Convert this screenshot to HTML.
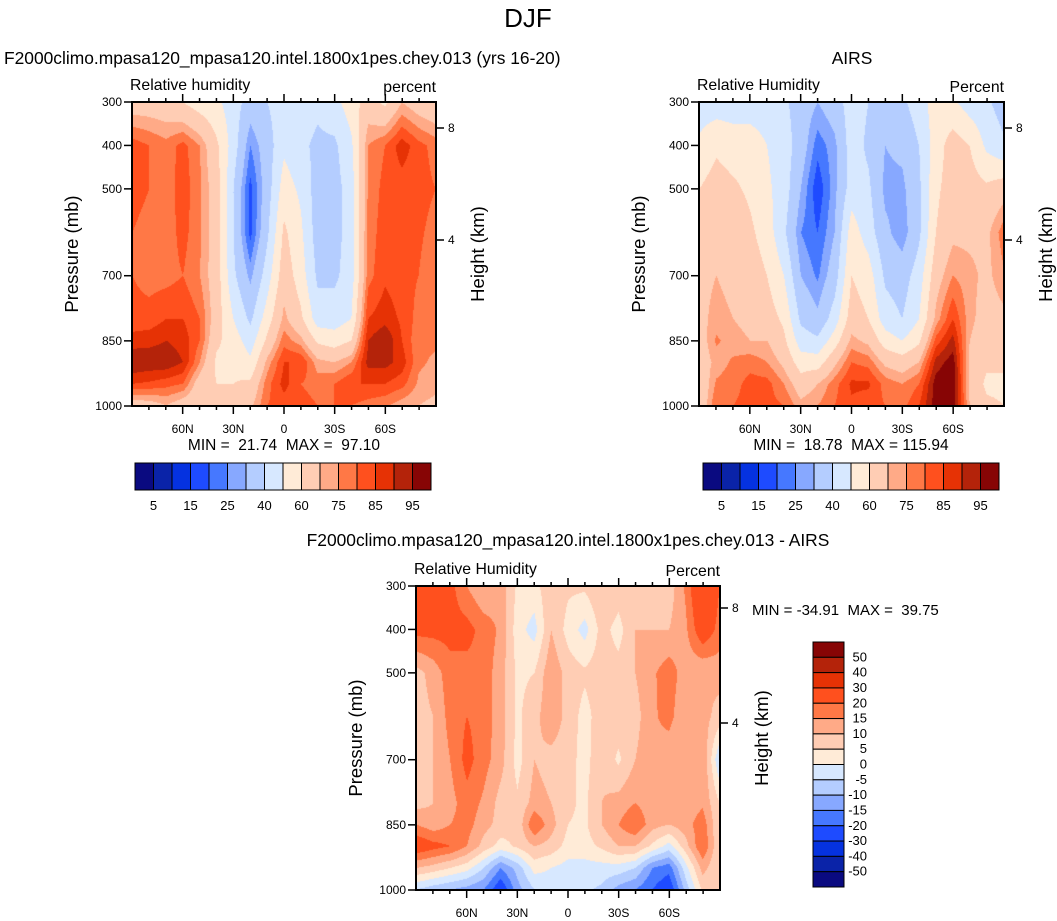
<!DOCTYPE html>
<html><head><meta charset="utf-8">
<style>
body{margin:0;background:#fff;}
#wrap{position:relative;width:1057px;height:921px;overflow:hidden;font-family:"Liberation Sans",sans-serif;}
canvas{position:absolute;}
svg{position:absolute;left:0;top:0;}
svg text{white-space:pre;}
</style></head><body>
<div id="wrap">
<canvas id="c1" width="304" height="304" style="left:132px;top:102px"></canvas>
<canvas id="c2" width="305" height="304" style="left:699px;top:102px"></canvas>
<canvas id="c3" width="304" height="304" style="left:416px;top:586px"></canvas>
<svg id="ov" width="1057" height="921"></svg>
</div>
<script>
const lats=[90,80,70,60,50,40,30,20,10,0,-10,-20,-30,-40,-50,-60,-70,-80,-90];
const pres=[300,400,500,600,700,800,850,900,950,1000];
const rhLevels=[5,10,15,20,25,30,40,50,60,70,75,80,85,90,95];
const diffLevels=[-50,-40,-30,-20,-15,-10,-5,0,5,10,15,20,30,40,50];
const rhLabels=["5","15","25","40","60","75","85","95"];
const diffLabels=["50","40","30","20","15","10","5","0","-5","-10","-15","-20","-30","-40","-50"];
const colors=["#0a0a80","#0a23a8","#0532e0","#1e4bff","#4678ff","#87a8ff","#b4cdff","#d7e8ff","#ffebd7","#ffcdb4","#ffaa87","#ff7846","#ff501e","#e63205","#b4230a","#870505"];
const modelRH=[
[65,83,82,80,80,82,87,95,85,65],
[65,80,80,78,78,82,88,94,84,66],
[64,77,77,77,78,85,90,94,82,70],
[60,82,83,82,80,85,88,90,80,65],
[55,75,76,76,75,80,80,75,65,62],
[52,62,65,65,65,65,62,58,60,62],
[45,45,40,40,42,50,55,58,60,62],
[35,25,18,18,28,38,45,52,62,68],
[40,35,35,38,45,55,62,72,78,80],
[45,48,55,62,66,72,78,85,87,82],
[45,42,48,52,55,62,72,85,80,82],
[42,38,35,35,38,45,58,72,78,80],
[47,38,36,36,38,45,55,70,80,80],
[55,48,45,45,45,50,60,75,85,80],
[65,75,76,77,78,85,90,92,85,78],
[58,80,82,83,84,88,95,92,85,76],
[70,88,82,82,82,84,85,88,82,72],
[65,82,82,81,80,78,76,76,74,70],
[62,78,80,78,76,76,76,74,72,68]];
const airsRH=[
[45,52,60,65,68,68,65,65,62,62],
[45,58,65,70,70,72,76,72,76,80],
[45,55,62,68,68,70,72,76,78,80],
[45,55,58,62,66,68,70,78,82,82],
[45,50,52,55,60,65,70,75,82,82],
[42,45,45,42,50,58,62,68,75,80],
[35,35,30,25,30,38,45,55,65,72],
[30,22,16,20,24,32,42,55,70,75],
[35,28,28,30,35,45,55,68,78,80],
[45,45,45,55,60,65,72,80,86,84],
[40,38,42,45,55,60,68,78,86,82],
[35,30,28,32,38,45,55,68,78,80],
[38,32,28,26,35,40,50,65,75,78],
[45,40,38,38,45,50,58,70,80,85],
[55,55,58,60,66,72,82,92,98,98],
[52,65,65,68,75,85,92,98,100,98],
[45,60,65,68,72,72,70,68,68,70],
[42,48,62,68,68,66,64,62,58,62],
[35,42,66,78,74,68,66,62,58,60]];
const diffRH=[
[22,22,8,8,8,8,15,25,10,-5],
[22,22,12,10,10,10,12,22,8,-8],
[22,22,18,17,15,13,15,20,5,-10],
[15,22,18,20,22,18,17,15,2,-12],
[10,18,18,18,17,14,12,8,-5,-15],
[13,14,12,12,12,8,8,3,-15,-25],
[4,2,4,4,3,6,6,6,-8,-12],
[3,-2,5,8,10,12,20,10,2,-5],
[9,10,14,14,8,10,12,8,0,-3],
[6,3,8,8,7,6,5,3,-2,-3],
[6,-2,6,3,3,4,4,3,-2,-4],
[10,7,8,8,9,10,10,6,-2,-6],
[8,3,7,8,4,12,15,10,-2,-12],
[10,10,10,8,10,15,20,10,-5,-15],
[6,10,14,14,14,12,12,4,-15,-20],
[7,10,18,17,11,10,10,-2,-18,-25],
[16,14,12,10,10,12,13,8,-2,-8],
[30,25,10,12,15,14,18,20,12,6],
[20,18,12,8,-5,5,5,5,5,5]];

function hex(c){return [parseInt(c.substr(1,2),16),parseInt(c.substr(3,2),16),parseInt(c.substr(5,2),16)];}
const rgb=colors.map(hex);
function drawField(id,grid,levels){
  const cv=document.getElementById(id),ctx=cv.getContext('2d');
  const W=cv.width,H=cv.height,img=ctx.createImageData(W,H);
  for(let py=0;py<H;py++){
    const p=300+py/(H-1)*700;
    let j=0;while(j<pres.length-2&&pres[j+1]<p)j++;
    const tp=(p-pres[j])/(pres[j+1]-pres[j]);
    for(let px=0;px<W;px++){
      const lat=90-px/(W-1)*180;
      let i=0;while(i<lats.length-2&&lats[i+1]>lat)i++;
      const tl=(lats[i]-lat)/(lats[i]-lats[i+1]);
      const a=grid[i][j]*(1-tp)+grid[i][j+1]*tp;
      const b=grid[i+1][j]*(1-tp)+grid[i+1][j+1]*tp;
      const v=a*(1-tl)+b*tl;
      let k=0;while(k<levels.length&&v>=levels[k])k++;
      const c=rgb[k],o=(py*W+px)*4;
      img.data[o]=c[0];img.data[o+1]=c[1];img.data[o+2]=c[2];img.data[o+3]=255;
    }
  }
  ctx.putImageData(img,0,0);
}
drawField('c1',modelRH,rhLevels);
drawField('c2',airsRH,rhLevels);
drawField('c3',diffRH,diffLevels);

const NS="http://www.w3.org/2000/svg",ov=document.getElementById('ov');
function el(tag,attrs,txt){const e=document.createElementNS(NS,tag);for(const k in attrs)e.setAttribute(k,attrs[k]);if(txt!==undefined)e.textContent=txt;ov.appendChild(e);return e;}
function txt(x,y,s,size,anchor,name,extra){const t=el('text',Object.assign({x:x,y:y,'font-size':size,'text-anchor':anchor||'start',fill:'#000','font-family':'Liberation Sans, sans-serif'},extra||{}),s);

return t;}
function line(x1,y1,x2,y2,w,name){const l=el('line',{x1:x1,y1:y1,x2:x2,y2:y2,stroke:'#000','stroke-width':w||1});

return l;}

function axes(L,T,W,H,pre,h8,h4,leftLab,rightLab){
  const r=el('rect',{x:L,y:T,width:W,height:H,fill:'none',stroke:'#000','stroke-width':2});
  
  
  [300,400,500,700,850,1000].forEach(p=>{const y=T+(p-300)/700*H;line(L-8,y,L,y,1.5,pre+'-y-tick');txt(L-10,y+4,String(p),12,'end',pre+'-y-tick-label');});
  for(let lat=80;lat>=-80;lat-=10){const x=L+(90-lat)/180*W;const maj=lat%30===0;const len=maj?8:4;
    line(x,T-len,x,T,1.5,pre+'-top-tick');line(x,T+H,x,T+H+len,1.5,pre+'-x-tick');
    if(maj){const lab=lat===0?'0':Math.abs(lat)+(lat>0?'N':'S');txt(x,T+H+27,lab,12,'middle',pre+'-x-tick-label');}}
  [[h8,'8'],[h4,'4']].forEach(h=>{const y=T+h[0];line(L+W,y,L+W+8,y,1.5,pre+'-height-tick');txt(L+W+12,y+4,h[1],12,'start',pre+'-height-tick-label');});
  txt(L-2,T-12,leftLab,15.8,'start',pre+'-variable-label');
  txt(L+W,T-10,rightLab,15.8,'end',pre+'-units-label');
  txt(L-54,T+H/2,'Pressure (mb)',18.5,'middle',pre+'-y-axis-title',{transform:`rotate(-90 ${L-54} ${T+H/2})`});
  txt(L+W+48,T+H/2,'Height (km)',18.5,'middle',pre+'-height-axis-title',{transform:`rotate(-90 ${L+W+48} ${T+H/2})`});
}
function hbar(L,T,W,H,pre){
  const bw=W/16;
  colors.forEach((c,i)=>{const r=el('rect',{x:L+i*bw,y:T,width:bw,height:H,fill:c,stroke:'#000','stroke-width':1});
    
    });
  rhLabels.forEach((s,i)=>txt(L+(2*i+1)*bw,T+H+20,s,13,'middle',pre+'-colorbar-label'));
}
txt(528,27,'DJF',26,'middle','figure-title');
txt(4,64,'F2000climo.mpasa120_mpasa120.intel.1800x1pes.chey.013 (yrs 16-20)',17.4,'start','model-panel-title');
axes(132,102,304,304,'model',26,138,'Relative humidity','percent');
txt(284,450,'MIN =  21.74  MAX =  97.10',15.5,'middle','model-min-max');
hbar(135,463,296,27,'model');
txt(852,64,'AIRS',17.4,'middle','airs-panel-title');
axes(699,102,305,304,'airs',26,138,'Relative Humidity','Percent');
txt(851,450,'MIN =  18.78  MAX = 115.94',15.5,'middle','airs-min-max');
hbar(703,463,296,27,'airs');
txt(568,546,'F2000climo.mpasa120_mpasa120.intel.1800x1pes.chey.013 - AIRS',17.4,'middle','diff-panel-title');
axes(416,586,304,304,'diff',22,137,'Relative Humidity','Percent');
txt(752,615,'MIN = -34.91  MAX =  39.75',15,'start','diff-min-max');
(function(){const L=813,T=642,W=31,H=245,bh=H/16;
  colors.slice().reverse().forEach((c,i)=>{const r=el('rect',{x:L,y:T+i*bh,width:W,height:bh,fill:c,stroke:'#000','stroke-width':1});
    
    });
  diffLabels.forEach((s,i)=>txt(867,T+(i+1)*bh+4,s,13,'end','diff-colorbar-label'));
})();
</script>
</body></html>
